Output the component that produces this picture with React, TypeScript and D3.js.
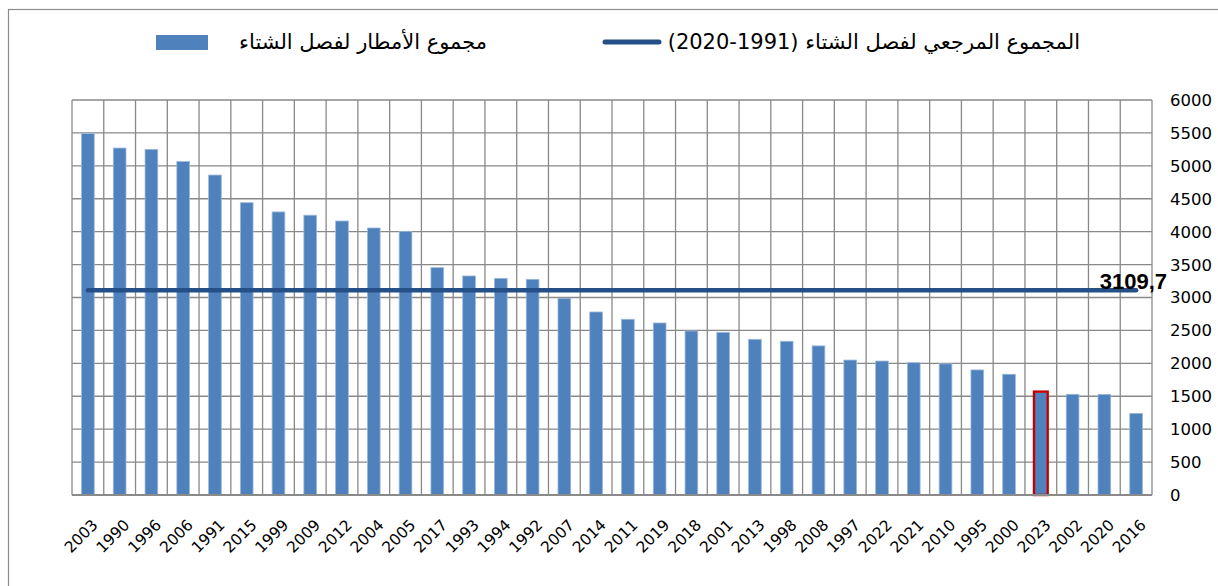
import React from "react";
import * as d3 from "d3";

const years = ["2003","1990","1996","2006","1991","2015","1999","2009","2012","2004","2005","2017","1993","1994","1992","2007","2014","2011","2019","2018","2001","2013","1998","2008","1997","2022","2021","2010","1995","2000","2023","2002","2020","2016"];
const winterRain = [5490,5270,5250,5065,4860,4440,4300,4250,4162,4056,4005,3453,3327,3291,3276,2988,2780,2669,2613,2491,2471,2365,2335,2265,2050,2035,2010,1992,1900,1834,1555,1530,1528,1240];
const referenceTotal = 3109.7;
const referenceLabel = "3109,7";
const yTicks = [0,500,1000,1500,2000,2500,3000,3500,4000,4500,5000,5500,6000];
const highlightYear = "2023";
const legendBarsText = "مجموع الأمطار لفصل الشتاء";
const legendLineText = "المجموع المرجعي لفصل الشتاء (1991-2020)";

const W = 1218, H = 586;
const left = 72, right = 1152, top = 100, bottom = 495;

export default function App() {
  const x = d3.scaleBand<string>().domain(years).range([left, right]).paddingInner(0.6).paddingOuter(0.3);
  const y = d3.scaleLinear().domain([0, 6000]).range([bottom, top]);
  const step = x.step();
  const bounds = years.map((yr) => (x(yr) as number) - step * 0.3).concat([right]);
  const cx = (yr: string) => (x(yr) as number) + x.bandwidth() / 2;
  const grid = "#898989";
  const lineColor = "#254f87";
  const ry = y(referenceTotal);
  return (
    <div style={{ position: "absolute", left: 0, top: 0 }}>
      <svg width={W} height={H} style={{ display: "block", background: "#fff" }}>
        <rect x={8.5} y={9.5} width={1230} height={600} fill="none" stroke="#8c8c8c" strokeWidth={1.2} />
        {yTicks.map((t) => (
          <line key={"h" + t} x1={left} x2={right} y1={y(t)} y2={y(t)} stroke={grid} strokeWidth={1.3} />
        ))}
        {bounds.map((bx, i) => (
          <line key={"v" + i} x1={bx} x2={bx} y1={top} y2={bottom} stroke={grid} strokeWidth={1.3} />
        ))}
        {years.map((yr, i) => (
          <rect key={"b" + yr} x={x(yr)} y={y(winterRain[i])} width={x.bandwidth()} height={bottom - y(winterRain[i])}
            fill="#4f81bd" stroke="#9cb9dd" strokeWidth={0.8} />
        ))}
        {years.map((yr, i) => yr === highlightYear ? (
          <rect key={"hl" + yr} x={(x(yr) as number) - 0.5} y={y(winterRain[i]) - 1} width={x.bandwidth() + 1} height={bottom - y(winterRain[i]) + 1}
            fill="none" stroke="#c00000" strokeWidth={2.4} />
        ) : null)}
        <line x1={left} x2={right} y1={bottom} y2={bottom} stroke="#8a8a8a" strokeWidth={2} />
        <line x1={cx(years[0])} x2={cx(years[years.length - 1])} y1={ry} y2={ry} stroke={lineColor} strokeWidth={4.5} strokeLinecap="round" />
        <text x={1167} y={ry - 1} textAnchor="end" fontFamily="Liberation Sans, Arial, sans-serif" fontWeight="bold" fontSize={22} fill="#000">{referenceLabel}</text>
        {yTicks.map((t) => (
          <text key={"yl" + t} x={1170} y={y(t)} dy="0.36em" fontFamily="DejaVu Sans, sans-serif" fontSize={16.5} fill="#000">{t}</text>
        ))}
        {years.map((yr) => (
          <text key={"xl" + yr} transform={`translate(${cx(yr) + 3},${518}) rotate(-45)`} textAnchor="end" dy="0.72em"
            fontFamily="DejaVu Sans, sans-serif" fontSize={15.5} fill="#000">{yr}</text>
        ))}
        <rect x={156} y={35} width={52} height={15} fill="#4f81bd" />
        <text x={487} y={42} dy="0.35em" direction="rtl" textAnchor="start" fontFamily="DejaVu Sans, sans-serif" fontSize={21} fill="#000">{legendBarsText}</text>
        <line x1={605} x2={659} y1={42} y2={42} stroke={lineColor} strokeWidth={5} strokeLinecap="round" />
        <text x={1080} y={42} dy="0.35em" direction="rtl" textAnchor="start" fontFamily="DejaVu Sans, sans-serif" fontSize={21} fill="#000">{legendLineText}</text>
      </svg>
    </div>
  );
}
